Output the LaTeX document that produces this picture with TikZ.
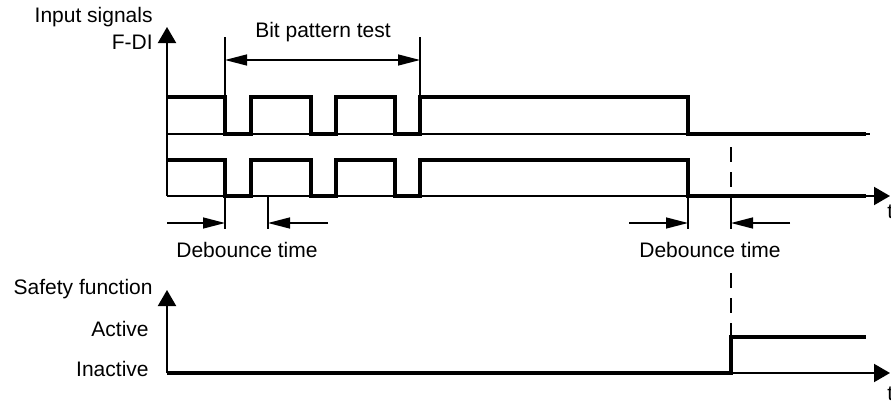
\documentclass[tikz,border=0pt]{standalone}
\usepackage{fontspec}
\setmainfont{Liberation Sans}
\usetikzlibrary{arrows.meta, positioning, calc}

\begin{document}
\begin{tikzpicture}[
    x=0.5pt, y=-0.5pt,
    font=\fontsize{10.5}{12.5}\selectfont,
    achse/.style={-{Triangle[length=8pt, width=9pt]}, line width=1pt},
    signal/.style={line width=1.6pt, line join=miter},
    basis/.style={line width=0.8pt},
    mass/.style={-{Triangle[length=11pt, width=5.5pt]}, line width=0.7pt},
    hilfslinie/.style={line width=0.7pt},
    gestrichelt/.style={line width=0.6pt, dash pattern=on 7.5pt off 5pt},
    beschriftung/.style={inner sep=1pt}
  ]
    \useasboundingbox (0,0) rectangle (891,402);

    % Achsen oben
    \coordinate (O1) at (167,196);
    \coordinate (Y1) at (167,27);
    \coordinate (X1) at (890,196);
    \coordinate (B1a) at (167,134);
    \coordinate (B1b) at (870,134);
    \draw[achse] (O1) -- (Y1);
    \draw[achse] (O1) -- (X1);
    \draw[basis] (B1a) -- (B1b);

    % Gestrichelte Linie (Abschaltzeitpunkt)
    \coordinate (S1) at (731,147);
    \coordinate (S1u) at (731,196);
    \coordinate (S2o) at (731,273);
    \coordinate (S2) at (731,337);
    \draw[gestrichelt] (S1) -- (S1u);
    \draw[gestrichelt] (S2o) -- (S2);

    % Eingangssignale F-DI
    \foreach \h/\l in {97/134, 160/196}
      \draw[signal] (167,\h) -- (225,\h) -- (225,\l) -- (251,\l) -- (251,\h)
        -- (311,\h) -- (311,\l) -- (336,\l) -- (336,\h) -- (395,\h)
        -- (395,\l) -- (420,\l) -- (420,\h) -- (688,\h) -- (688,\l)
        -- (866,\l);

    % Bitmustertest
    \coordinate (bp1o) at (225,37);
    \coordinate (bp1u) at (225,97);
    \coordinate (bp2o) at (420,37);
    \coordinate (bp2u) at (420,97);
    \coordinate (bp1) at (225,60);
    \coordinate (bp2) at (420,60);
    \draw[hilfslinie] (bp1o) -- (bp1u);
    \draw[hilfslinie] (bp2o) -- (bp2u);
    \draw[mass, {Triangle[length=11pt, width=5.5pt]}-{Triangle[length=11pt, width=5.5pt]}]
      (bp1) -- (bp2);
    \node (bitmuster) at (323,32) {Bit pattern test};

    % Entprellzeit links
    \coordinate (e1o) at (225,196);
    \coordinate (e1u) at (225,229);
    \coordinate (e2o) at (268,196);
    \coordinate (e2u) at (268,229);
    \coordinate (e1a) at (167,223);
    \coordinate (e1b) at (225,223);
    \coordinate (e2a) at (328,223);
    \coordinate (e2b) at (268,223);
    \draw[hilfslinie] (e1o) -- (e1u);
    \draw[hilfslinie] (e2o) -- (e2u);
    \draw[mass] (e1a) -- (e1b);
    \draw[mass] (e2a) -- (e2b);
    \node[beschriftung] (entprell1) at (247,250) {Debounce time};

    % Entprellzeit rechts
    \coordinate (e3o) at (688,196);
    \coordinate (e3u) at (688,229);
    \coordinate (e4o) at (731,196);
    \coordinate (e4u) at (731,229);
    \coordinate (e3a) at (629,223);
    \coordinate (e3b) at (688,223);
    \coordinate (e4a) at (790,223);
    \coordinate (e4b) at (731,223);
    \draw[hilfslinie] (e3o) -- (e3u);
    \draw[hilfslinie] (e4o) -- (e4u);
    \draw[mass] (e3a) -- (e3b);
    \draw[mass] (e4a) -- (e4b);
    \node[beschriftung] (entprell2) at (710,250) {Debounce time};

    % Achsen unten
    \coordinate (O2) at (167,373);
    \coordinate (Y2) at (167,290);
    \coordinate (X2) at (890,373);
    \draw[achse] (O2) -- (Y2);
    \draw[achse] (O2) -- (X2);

    % Sicherheitsfunktion
    \coordinate (sf1) at (731,373);
    \coordinate (sf2) at (731,337);
    \coordinate (sf3) at (866,337);
    \draw[signal] (O2) -- (sf1) -- (sf2) -- (sf3);

    % Beschriftungen
    \node[anchor=east, inner sep=1pt] (eingang) at (155,17) {Input signals};
    \node[anchor=east, inner sep=1pt] (fdi) at (155,42) {F-DI};
    \node[anchor=east, inner sep=1pt] (sicher) at (155,289) {Safety function};
    \node[anchor=east, inner sep=1pt] (aktiv) at (151,329) {Active};
    \node[anchor=east, inner sep=1pt] (inaktiv) at (151,369) {Inactive};
    \node[anchor=west, inner sep=1pt] (t1) at (885,212) {t};
    \node[anchor=west, inner sep=1pt] (t2) at (885,394) {t};
  \end{tikzpicture}
\end{document}
